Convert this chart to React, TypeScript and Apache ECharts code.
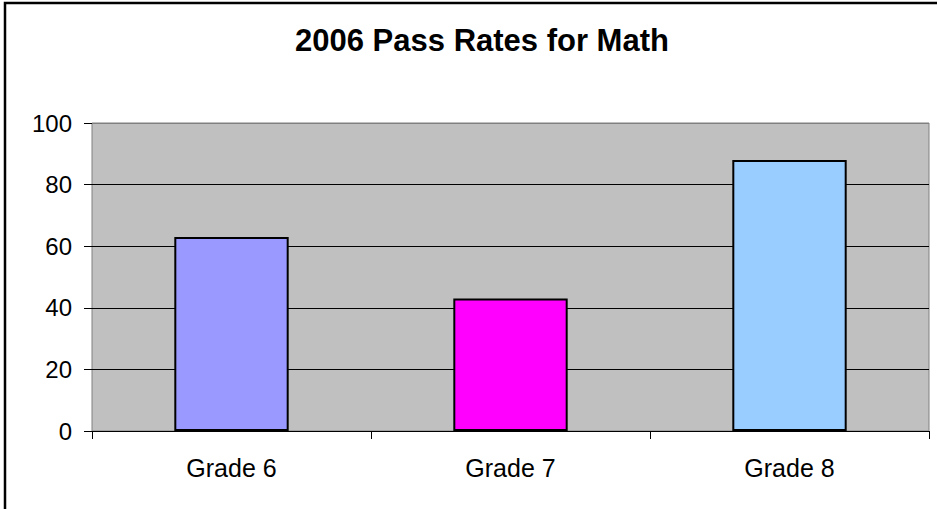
import React, { useEffect, useRef } from "react";
import * as echarts from "echarts";

const titleText = "2006 Pass Rates for Math";
const grades = ["Grade 6", "Grade 7", "Grade 8"];
const passRates = [63, 43, 88];
const barColors = ["#9999FF", "#FF00FF", "#99CCFF"];
const yTicks = { min: 0, max: 100, interval: 20 };

const FONT = "'Liberation Sans', Arial, sans-serif";

export default function App() {
  const ref = useRef<HTMLDivElement>(null);

  useEffect(() => {
    document.body.style.margin = "0";
    const chart = echarts.init(ref.current!, null, { renderer: "svg" });
    chart.setOption({
      animation: false,
      backgroundColor: "#FFFFFF",
      title: {
        text: titleText,
        left: 477,
        top: 20,
        textAlign: "center",
        textStyle: { fontFamily: FONT, fontSize: 31, fontWeight: "bold", color: "#000" },
      },
      graphic: [
        {
          type: "rect",
          shape: { x: 5, y: 3, width: 1000, height: 1000 },
          style: { fill: "none", stroke: "#000", lineWidth: 2.5 },
          silent: true,
          z: 100,
        },
      ],
      grid: {
        left: 92,
        right: 8,
        top: 123,
        bottom: 78,
        show: true,
        backgroundColor: "#C0C0C0",
        borderColor: "#808080",
        borderWidth: 1,
      },
      xAxis: {
        type: "category",
        data: grades,
        axisLine: { show: true, lineStyle: { color: "#000", width: 1 } },
        axisTick: { show: true, alignWithLabel: false, length: 8, lineStyle: { color: "#000" } },
        axisLabel: { fontFamily: FONT, fontSize: 25, color: "#000", margin: 24 },
        splitLine: { show: false },
      },
      yAxis: {
        type: "value",
        min: yTicks.min,
        max: yTicks.max,
        interval: yTicks.interval,
        axisLine: { show: false },
        axisTick: { show: true, length: 8, lineStyle: { color: "#000" } },
        axisLabel: { fontFamily: FONT, fontSize: 24, color: "#000", margin: 20 },
        splitLine: {
          show: true,
          // gridlines are black; the top one is the plot's gray border
          lineStyle: { color: ["#000", "#000", "#000", "#000", "#000", "#808080"], width: 1 },
        },
      },
      series: [
        {
          type: "bar",
          barWidth: "41%",
          data: passRates.map((v, i) => ({
            value: v,
            itemStyle: { color: barColors[i], borderColor: "#000", borderWidth: 2 },
          })),
        },
      ],
    });
    return () => chart.dispose();
  }, []);

  return (
    <div
      ref={ref}
      style={{ position: "absolute", left: 0, top: 0, width: 937, height: 509 }}
    />
  );
}
